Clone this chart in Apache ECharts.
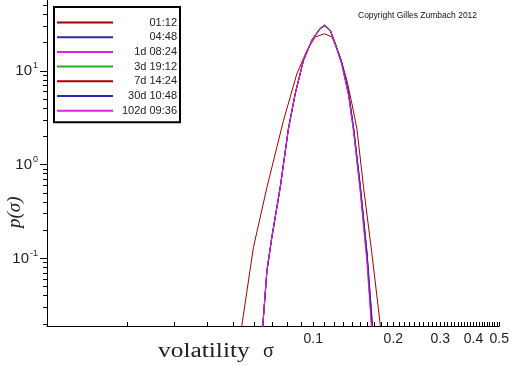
<!DOCTYPE html>
<html><head><meta charset="utf-8">
<script src="https://cdn.jsdelivr.net/npm/echarts@6/dist/echarts.min.js"></script>
<style>html,body{margin:0;padding:0;background:#fff}#c{width:512px;height:366px}</style>
</head><body><div id="c"></div>
<script>
// ---- data ----
const seriesNames = ['01:12', '04:48', '1d 08:24', '3d 19:12', '7d 14:24', '30d 10:48', '102d 09:36'];

const sigmaWide = [0.050, 0.0540, 0.0596, 0.0670, 0.0773, 0.0868, 0.0947, 0.1017, 0.1103, 0.1176, 0.1264, 0.1339, 0.1398, 0.1460, 0.1546, 0.1663, 0.1786, 0.185];
const p0112 = [0.005, 0.0196, 0.130, 0.57, 2.94, 9.3, 16.5, 23.0, 24.9, 23.0, 14.0, 7.9, 4.45, 2.40, 0.57, 0.110, 0.0196, 0.008];

const sigmaNarrow = [0.0630, 0.0647, 0.0670, 0.0699, 0.0752, 0.0807, 0.0856, 0.0919, 0.0989, 0.1062, 0.1103, 0.1159, 0.1210, 0.1282, 0.1358, 0.1418, 0.1503, 0.1592, 0.1663, 0.1700];
const p0448 = [0.006, 0.0196, 0.072, 0.165, 0.58, 2.42, 5.75, 13.0, 21.4, 28.4, 30.2, 27.3, 19.8, 12.1, 5.9, 2.50, 0.60, 0.118, 0.023, 0.009];
const p1d0824 = [0.006, 0.020, 0.075, 0.17, 0.59, 2.45, 5.8, 13.1, 21.5, 28.5, 30.8, 27.0, 19.3, 11.6, 5.5, 2.30, 0.53, 0.098, 0.017, 0.006];
const p3d1912 = [0.006, 0.019, 0.072, 0.165, 0.57, 2.38, 5.65, 12.8, 21.0, 28.0, 30.0, 27.0, 19.5, 11.9, 5.7, 2.42, 0.58, 0.112, 0.020, 0.007];
const p7d1424 = [0.006, 0.0198, 0.074, 0.168, 0.575, 2.41, 5.7, 12.9, 21.2, 28.1, 30.3, 27.0, 19.4, 11.8, 5.65, 2.38, 0.56, 0.108, 0.019, 0.007];
const p30d1048 = [0.006, 0.0196, 0.073, 0.166, 0.57, 2.40, 5.7, 12.9, 21.3, 28.3, 30.5, 27.2, 19.6, 12.0, 5.8, 2.45, 0.59, 0.115, 0.022, 0.008];
const p102d0936 = [0.006, 0.0196, 0.074, 0.167, 0.57, 2.40, 5.7, 12.9, 21.2, 28.3, 31.0, 27.0, 19.2, 11.5, 5.4, 2.22, 0.50, 0.090, 0.015, 0.005];

const xLabelValues = [0.1, 0.2, 0.3, 0.4, 0.5];
const yLabelValues = [0.1, 1, 10];

// ---- styles ----
const colors = ['#a00000', '#2c2ca8', '#e020e0', '#20b020', '#a00000', '#2c2ca8', '#e020e0'];
const seriesX = [sigmaWide, sigmaNarrow, sigmaNarrow, sigmaNarrow, sigmaNarrow, sigmaNarrow, sigmaNarrow];
const seriesY = [p0112, p0448, p1d0824, p3d1912, p7d1424, p30d1048, p102d0936];

const xMinorTicks = [];
for (let i = 1; i <= 50; i++) xMinorTicks.push(i / 100);
const yMinorTicks = [];
[0.01, 0.1, 1, 10].forEach(d => { for (let k = 2; k <= 9; k++) { const v = +(k * d).toPrecision(3); if (v >= 0.019 && v <= 57) yMinorTicks.push(v); } });

const chart = echarts.init(document.getElementById('c'), null, { renderer: 'canvas' });
const sans = 'Liberation Sans, Arial, sans-serif';
const serif = 'Liberation Serif, Times New Roman, serif';

const series = seriesNames.map((name, i) => ({
  name, type: 'line', symbol: 'none', clip: true, smooth: false,
  xAxisIndex: 0, yAxisIndex: 0,
  lineStyle: { color: colors[i], width: 1 },
  itemStyle: { color: colors[i] },
  data: seriesX[i].map((x, j) => [x, seriesY[i][j]])
}));

chart.setOption({
  animation: false,
  backgroundColor: '#fff',
  grid: { left: 47, right: 12, top: 0, bottom: 40 },
  xAxis: [{
    type: 'log', logBase: 10, min: 0.01, max: 0.5,
    axisLine: { show: true, lineStyle: { color: '#000', width: 1 } },
    axisTick: { show: true, inside: true, length: 4, customValues: xMinorTicks, lineStyle: { color: '#000' } },
    axisLabel: { show: true, customValues: xLabelValues, showMaxLabel: true, showMinLabel: true,
      color: '#222', fontSize: 14, fontFamily: sans, margin: 6, formatter: v => String(+v.toFixed(2)) },
    splitLine: { show: false }
  }],
  yAxis: [{
    type: 'log', logBase: 10, min: 0.019, max: 57, position: 'left',
    axisLine: { show: true, lineStyle: { color: '#000', width: 1 } },
    axisTick: { show: true, length: 7, customValues: yLabelValues, lineStyle: { color: '#000' } },
    axisLabel: { show: true, customValues: yLabelValues, margin: 9,
      formatter: v => '{b|10}{s|' + Math.round(Math.log10(v)) + '}',
      rich: { b: { fontSize: 15, fontFamily: sans, color: '#222' },
              s: { fontSize: 9, fontFamily: sans, color: '#222', padding: [0, 0, 10, 1] } } },
    splitLine: { show: false }
  }, {
    type: 'log', logBase: 10, min: 0.019, max: 57, position: 'left', offset: 0,
    axisLine: { show: false },
    axisTick: { show: true, length: 4, customValues: yMinorTicks, lineStyle: { color: '#000' } },
    axisLabel: { show: false },
    splitLine: { show: false }
  }],
  legend: {
    orient: 'vertical', left: 54, top: 7,
    data: seriesNames,
    icon: 'rect',
    itemWidth: 56, itemHeight: 2, itemGap: 3.7,
    padding: [10, 3, 6, 3],
    borderColor: '#000', borderWidth: 2, backgroundColor: '#fff',
    selectedMode: false,
    formatter: n => '{t|' + n + '}',
    textStyle: { rich: { t: { width: 59, lineHeight: 14, align: 'right', fontSize: 11, fontFamily: sans, color: '#222' } } }
  },
  graphic: [
    { type: 'text', left: 358, top: 11, style: { text: 'Copyright Gilles Zumbach 2012', font: '8.5px ' + sans, fill: '#111' } },
    { type: 'text', x: 158, y: 342, scaleX: 1.27, style: { text: 'volatility', font: '20px ' + serif, fill: '#222' } },
    { type: 'text', x: 263, y: 342, style: { text: 'σ', font: '20px ' + serif, fill: '#222' } },
    { type: 'text', x: 5, y: 228, rotation: Math.PI / 2, style: { text: 'p(σ)', font: 'italic 19px ' + serif, fill: '#222' } }
  ],
  series
});
</script></body></html>
